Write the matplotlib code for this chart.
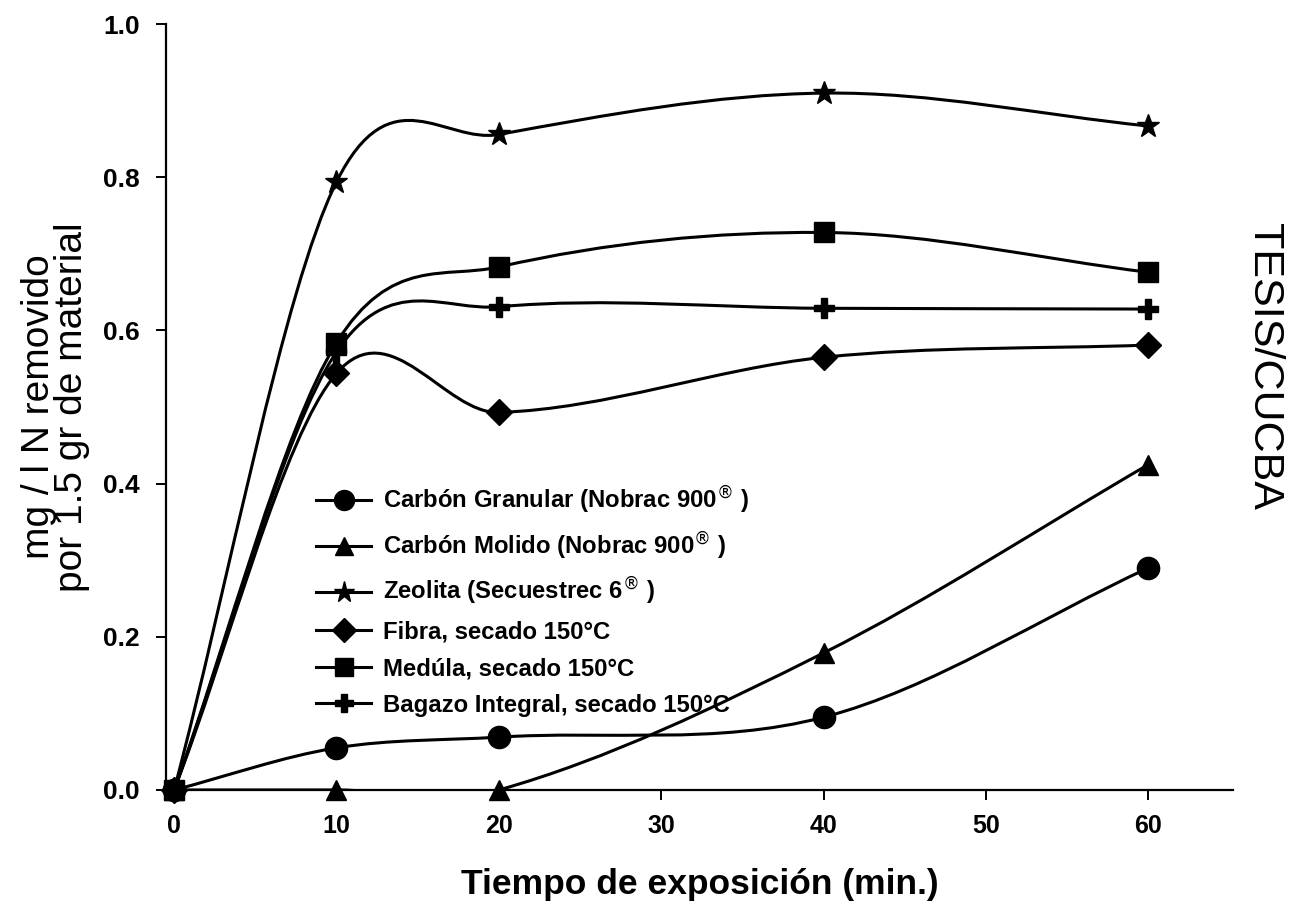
import numpy as np
import matplotlib
matplotlib.use('Agg')
import matplotlib.pyplot as plt
from matplotlib.path import Path
from matplotlib.patches import PathPatch
from matplotlib.lines import Line2D

# Exposure time (min) and N removed (mg/l per 1.5 g of material)
tiempo = [0, 10, 20, 40, 60]
granular = [0.0, 0.055, 0.069, 0.095, 0.290]
molido = [0.0, 0.0, 0.0, 0.179, 0.425]
zeolita = [0.0, 0.794, 0.856, 0.910, 0.867]
fibra = [0.0, 0.544, 0.493, 0.565, 0.581]
medula = [0.0, 0.584, 0.683, 0.728, 0.676]
bagazo = [0.0, 0.572, 0.631, 0.629, 0.628]

etiquetas = [
    'Carbón Granular (Nobrac 900$^{®}$ )',
    'Carbón Molido (Nobrac 900$^{®}$ )',
    'Zeolita (Secuestrec 6$^{®}$ )',
    'Fibra, secado 150°C',
    'Medúla, secado 150°C',
    'Bagazo Integral, secado 150°C',
]
x_ticks = [0, 10, 20, 30, 40, 50, 60]
y_ticks = [0.0, 0.2, 0.4, 0.6, 0.8, 1.0]


def smooth_path(x, y):
    """Catmull-Rom style curve through the points, built from bezier segments."""
    x = np.asarray(x, float)
    y = np.asarray(y, float)
    n = len(x)
    m = np.zeros(n)
    m[0] = (y[1] - y[0]) / (x[1] - x[0])
    m[-1] = (y[-1] - y[-2]) / (x[-1] - x[-2])
    for i in range(1, n - 1):
        m[i] = (y[i + 1] - y[i - 1]) / (x[i + 1] - x[i - 1])
    verts = [(x[0], y[0])]
    codes = [Path.MOVETO]
    for i in range(n - 1):
        h = x[i + 1] - x[i]
        verts += [(x[i] + h / 3, y[i] + m[i] * h / 3),
                  (x[i + 1] - h / 3, y[i + 1] - m[i + 1] * h / 3),
                  (x[i + 1], y[i + 1])]
        codes += [Path.CURVE4] * 3
    return Path(verts, codes)


fig = plt.figure(figsize=(13.14, 9.16), dpi=100)
ax = fig.add_axes([0.1263, 0.1376, 0.812, 0.836])

series = [granular, molido, zeolita, fibra, medula, bagazo]
markers = ['o', '^', '*', 'D', 's', 'P']
sizes = [16, 15, 17, 13.5, 15, 14]
lw = 2.2

handles = []
for y, mk, ms, lab in zip(series, markers, sizes, etiquetas):
    ax.add_patch(PathPatch(smooth_path(tiempo, y), fill=False, lw=lw,
                           edgecolor='black', zorder=2))
    ax.plot(tiempo, y, ls='none', marker=mk, ms=ms, color='black',
            zorder=3, clip_on=False)
    handles.append(Line2D([], [], color='black', lw=lw, marker=mk, ms=ms * 0.9,
                          label=lab))

ax.set_xlim(-0.5, 65.2)
ax.set_ylim(0, 1.0)
ax.set_xticks(x_ticks)
ax.set_yticks(y_ticks)
ax.set_yticklabels([f'{v:.1f}' for v in y_ticks])

for s in ['top', 'right']:
    ax.spines[s].set_visible(False)
for s in ['left', 'bottom']:
    ax.spines[s].set_linewidth(1.6)

ax.tick_params(direction='out', length=7, width=1.4)
ax.tick_params(axis='x', pad=10)
ax.tick_params(axis='y', pad=12)
for t in ax.get_xticklabels():
    t.set_fontfamily('Liberation Sans')
    t.set_fontweight('bold')
    t.set_fontsize(18)
for t in ax.get_yticklabels():
    t.set_fontfamily('Liberation Sans')
    t.set_fontweight('bold')
    t.set_fontsize(19)

ax.set_xlabel('Tiempo de exposición (min.)', fontfamily='Liberation Sans',
              fontweight='bold', fontsize=25.5, labelpad=22)
ax.set_ylabel('mg / l N removido\npor 1.5 gr de material', fontfamily='Liberation Sans',
              fontsize=28, linespacing=0.9, labelpad=9)

ax.legend(handles=handles, loc='upper left', bbox_to_anchor=(0.141, 0.40),
          frameon=False, handlelength=2.3, handletextpad=0.5, labelspacing=0.56,
          borderaxespad=0, borderpad=0,
          prop={'family': 'Liberation Sans', 'weight': 'bold', 'size': 17.2})

fig.text(0.962, 0.60, 'TESIS/CUCBA', rotation=-90, ha='center', va='center',
         fontfamily='Liberation Sans', fontsize=31)

fig.savefig('out.png', dpi=100)
